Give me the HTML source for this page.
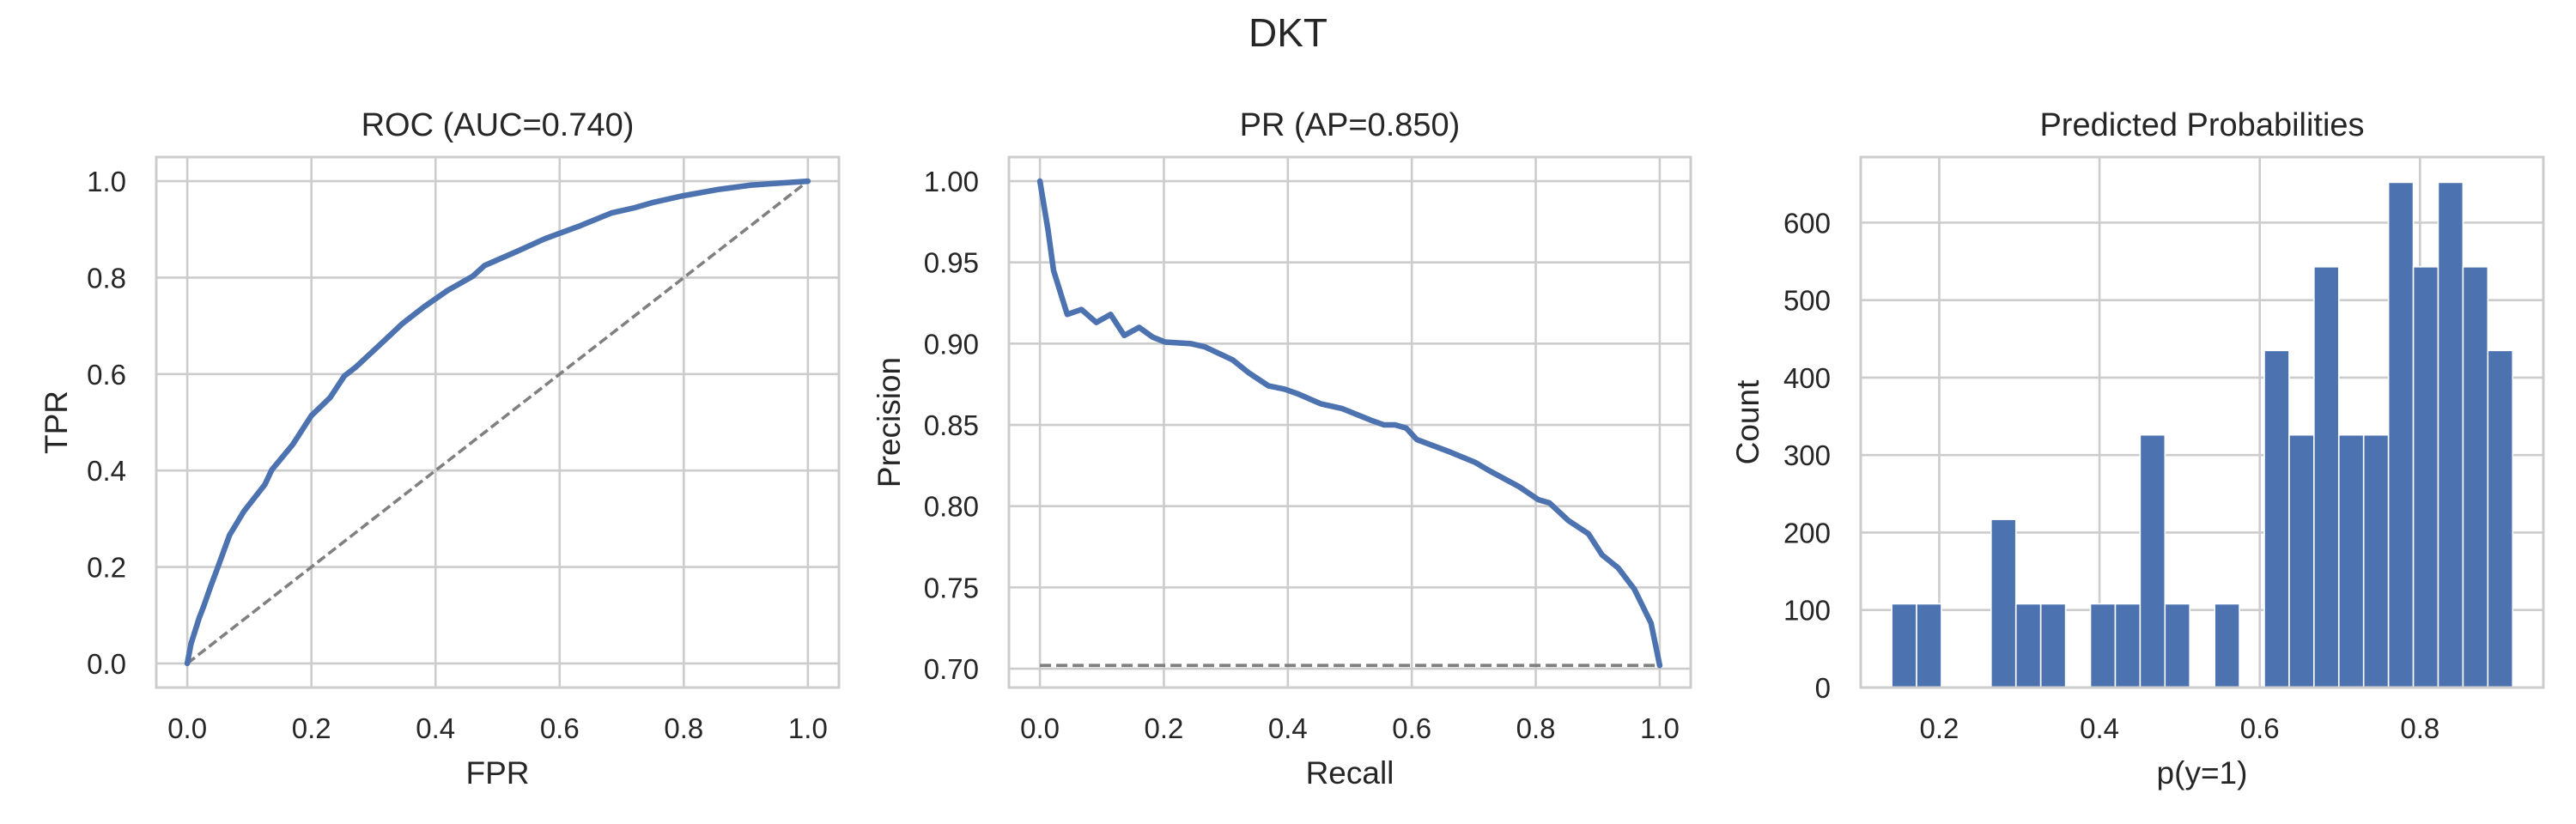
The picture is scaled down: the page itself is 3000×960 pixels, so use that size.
<!DOCTYPE html>
<html><head><meta charset="utf-8"><style>
html,body{margin:0;padding:0;background:#fff;}
svg{display:block;}
text{font-family:"Liberation Sans",Arial,sans-serif;fill:#262626;}
</style></head><body>
<svg id="fig" width="3000" height="960" viewBox="0 0 3000 960" xmlns="http://www.w3.org/2000/svg">
<text x="1500" y="54" font-size="46" text-anchor="middle">DKT</text>
</svg>
<script>
// ROC data
const rocFpr = [0,0.006,0.019,0.026,0.038,0.049,0.068,0.091,0.125,0.136,0.17,0.2,0.23,0.253,0.272,0.313,0.347,0.381,0.419,0.46,0.479,0.532,0.577,0.634,0.683,0.721,0.751,0.796,0.857,0.909,1];
const rocTpr = [0,0.041,0.094,0.117,0.161,0.199,0.266,0.315,0.371,0.401,0.454,0.514,0.551,0.596,0.615,0.664,0.705,0.739,0.773,0.803,0.825,0.855,0.881,0.908,0.934,0.945,0.956,0.969,0.983,0.992,1];
// PR data
const prRecall = [0,0.013,0.022,0.044,0.067,0.091,0.114,0.136,0.16,0.182,0.202,0.244,0.266,0.311,0.337,0.369,0.395,0.417,0.453,0.488,0.533,0.555,0.573,0.591,0.608,0.657,0.702,0.724,0.773,0.804,0.822,0.853,0.885,0.907,0.933,0.959,0.986,1];
const prPrecision = [1,0.97,0.945,0.918,0.921,0.913,0.918,0.905,0.91,0.904,0.901,0.9,0.898,0.89,0.882,0.874,0.872,0.869,0.863,0.86,0.853,0.85,0.85,0.848,0.841,0.834,0.827,0.822,0.812,0.804,0.802,0.791,0.783,0.77,0.762,0.749,0.728,0.702];
const prBaseline = 0.702;
// Histogram data
const histStart = 0.1407;
const histBinWidth = 0.031;
const histCounts = [108,108,0,0,217,108,108,0,108,108,326,108,0,108,0,435,326,543,326,326,652,543,652,543,435];
// ticks
const rocTicks = ["0.0","0.2","0.4","0.6","0.8","1.0"];
const prYTicks = ["0.70","0.75","0.80","0.85","0.90","0.95","1.00"];
const histXTicks = ["0.2","0.4","0.6","0.8"];
const histYTicks = ["0","100","200","300","400","500","600"];

const NS="http://www.w3.org/2000/svg";
const svg=document.getElementById('fig');
function mk(tag,attrs,parent){const e=document.createElementNS(NS,tag);for(const k in attrs)e.setAttribute(k,attrs[k]);(parent||svg).appendChild(e);return e;}
function axis(x0,x1,y0,y1,L,R,T,B){
  return {sx:v=>L+(v-x0)/(x1-x0)*(R-L), sy:v=>B-(v-y0)/(y1-y0)*(B-T), L,R,T,B};
}
const TOP=183,BOT=801;
function frame(ax,name,title,xl,yl,xTicks,yTicks,ylabX){
  const g=mk('g',{});
  
  
  xTicks.forEach(t=>{const x=ax.sx(+t);
    const l=mk('line',{x1:x,x2:x,y1:ax.T,y2:ax.B,stroke:'#cccccc','stroke-width':2.6},g);
    
    
    const tx=mk('text',{x:x,y:860,'font-size':33,'text-anchor':'middle'},g);tx.textContent=t;
    
    
  });
  yTicks.forEach(t=>{const y=ax.sy(+t);
    const l=mk('line',{x1:ax.L,x2:ax.R,y1:y,y2:y,stroke:'#cccccc','stroke-width':2.6},g);
    
    
    const tx=mk('text',{x:ax.L-35,y:y+12,'font-size':33,'text-anchor':'end'},g);tx.textContent=t;
    
    
  });
  const tt=mk('text',{x:(ax.L+ax.R)/2,y:158,'font-size':38,'text-anchor':'middle'},g);tt.textContent=title;
  
  
  const xt=mk('text',{x:(ax.L+ax.R)/2,y:913,'font-size':37,'text-anchor':'middle'},g);xt.textContent=xl;
  
  
  const cy=(ax.T+ax.B)/2;
  const yt=mk('text',{x:ylabX,y:cy,'font-size':37,'text-anchor':'middle',transform:`rotate(-90 ${ylabX} ${cy})`},g);yt.textContent=yl;
  
  
  return g;
}
function spine(ax){
  const r=mk('rect',{x:ax.L,y:ax.T,width:ax.R-ax.L,height:ax.B-ax.T,fill:'none',stroke:'#cccccc','stroke-width':3});
  
  
}
function path(xs,ys,ax){return xs.map((v,i)=>(i?'L':'M')+ax.sx(v).toFixed(1)+' '+ax.sy(ys[i]).toFixed(1)).join(' ');}

// ROC
const roc=axis(-0.05,1.05,-0.05,1.05,182,977,TOP,BOT);
frame(roc,'roc-panel','ROC (AUC=0.740)','FPR','TPR',rocTicks,rocTicks,78);
const diag=mk('line',{x1:roc.sx(0),y1:roc.sy(0),x2:roc.sx(1),y2:roc.sy(1),stroke:'#808080','stroke-width':3.6,'stroke-dasharray':'11 5'});


const rl=mk('path',{d:path(rocFpr,rocTpr,roc),fill:'none',stroke:'#4c72b0','stroke-width':6.5,'stroke-linejoin':'round','stroke-linecap':'round'});


spine(roc);

// PR
const pr=axis(-0.05,1.05,0.6884,1.0148,1175,1969,TOP,BOT);
frame(pr,'pr-panel','PR (AP=0.850)','Recall','Precision',rocTicks,prYTicks,1048);
const bl=mk('line',{x1:pr.sx(0),y1:pr.sy(prBaseline),x2:pr.sx(1),y2:pr.sy(prBaseline),stroke:'#808080','stroke-width':3.8,'stroke-dasharray':'13 6'});


const pl=mk('path',{d:path(prRecall,prPrecision,pr),fill:'none',stroke:'#4c72b0','stroke-width':6.5,'stroke-linejoin':'round','stroke-linecap':'round'});


spine(pr);

// Histogram
const hs=axis(0.102,0.954,0,684.6,2167,2962,TOP,BOT);
frame(hs,'histogram-panel','Predicted Probabilities','p(y=1)','Count',histXTicks,histYTicks,2048);
histCounts.forEach((c,i)=>{
  if(!c)return;
  const x0=hs.sx(histStart+i*histBinWidth), x1=hs.sx(histStart+(i+1)*histBinWidth);
  const r=mk('rect',{x:x0,y:hs.sy(c),width:x1-x0,height:hs.sy(0)-hs.sy(c),fill:'#4c72b0',stroke:'#ffffff','stroke-width':1.6});
  
  
});
spine(hs);
</script>
</body></html>
